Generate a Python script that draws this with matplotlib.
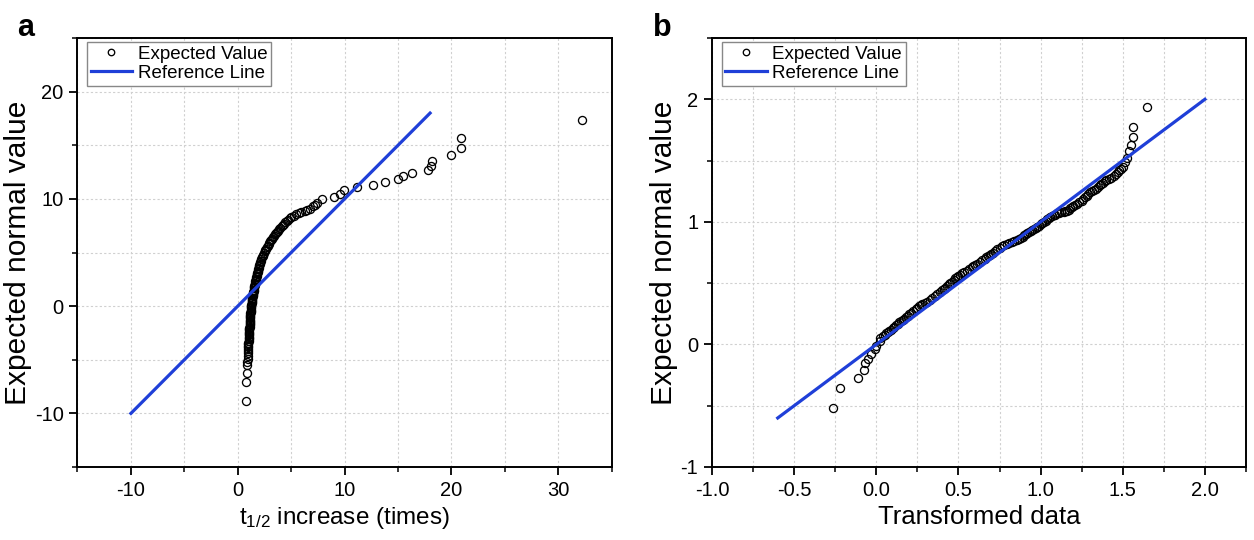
import matplotlib
matplotlib.use("Agg")
import matplotlib.pyplot as plt
from matplotlib.ticker import MultipleLocator

plt.rcParams['font.family'] = ['Liberation Sans', 'DejaVu Sans']
plt.rcParams['mathtext.default'] = 'regular'

# ---- Panel a data ----
a_x = [0.78, 0.80, 0.85, 0.88, 0.90, 0.92, 0.94, 0.95, 0.96, 0.97, 0.98, 0.99, 1.00, 1.00,
       1.01, 1.02, 1.03, 1.03, 1.04, 1.05, 1.06, 1.06, 1.07, 1.08, 1.09, 1.10, 1.11, 1.11,
       1.12, 1.13, 1.14, 1.14, 1.15, 1.16, 1.17, 1.18, 1.19, 1.20, 1.21, 1.22, 1.24, 1.25,
       1.26, 1.27, 1.29, 1.30, 1.32, 1.33, 1.35, 1.36, 1.38, 1.40, 1.42, 1.44, 1.46, 1.48,
       1.50, 1.52, 1.54, 1.56, 1.58, 1.60, 1.63, 1.65, 1.68, 1.70, 1.73, 1.76, 1.79, 1.82,
       1.85, 1.88, 1.92, 1.95, 1.99, 2.03, 2.08, 2.12, 2.17, 2.22, 2.28, 2.33, 2.39, 2.45,
       2.52, 2.58, 2.65, 2.72, 2.80, 2.88, 2.96, 3.05, 3.13, 3.22, 3.31, 3.40, 3.50, 3.60,
       3.70, 3.80, 3.90, 4.00, 4.11, 4.22, 4.33, 4.45, 4.57, 4.69, 4.85, 5.00, 5.25, 5.47,
       5.70, 5.90, 6.25, 6.50, 6.72, 7.03, 7.25, 7.45, 7.90, 9.00, 9.53, 9.94, 11.2, 12.7,
       13.8, 15.0, 15.5, 16.3, 17.8, 18.1, 18.2, 20.0, 20.9, 20.9, 32.2]
a_y = [-8.85, -7.07, -6.2, -5.5, -5.2, -4.9, -4.65, -4.4, -4.2, -4.0, -3.85, -3.7, -3.55, -3.4,
       -3.25, -3.1, -2.95, -2.85, -2.7, -2.6, -2.5, -2.4, -2.25, -2.15, -2.0, -1.9, -1.8, -1.7,
       -1.55, -1.45, -1.35, -1.25, -1.1, -1.0, -0.9, -0.8, -0.65, -0.55, -0.45, -0.35, -0.2, -0.1,
       0.0, 0.1, 0.25, 0.35, 0.45, 0.55, 0.7, 0.8, 0.9, 1.0, 1.1, 1.2, 1.35, 1.45,
       1.55, 1.65, 1.75, 1.85, 1.95, 2.05, 2.2, 2.3, 2.45, 2.55, 2.7, 2.8, 2.95, 3.05,
       3.2, 3.3, 3.45, 3.55, 3.7, 3.8, 3.95, 4.1, 4.25, 4.4, 4.55, 4.7, 4.8, 4.95,
       5.1, 5.25, 5.35, 5.5, 5.65, 5.8, 5.9, 6.05, 6.2, 6.3, 6.45, 6.55, 6.7, 6.8,
       6.95, 7.05, 7.2, 7.3, 7.45, 7.55, 7.7, 7.8, 7.95, 8.05, 8.2, 8.35, 8.45, 8.55,
       8.65, 8.75, 8.9, 9.0, 9.1, 9.3, 9.45, 9.6, 9.97, 10.2, 10.45, 10.8, 11.1, 11.3,
       11.55, 11.85, 12.15, 12.4, 12.7, 13.1, 13.55, 14.1, 14.75, 15.7, 17.4]
a_ref = [-10, 18]

# ---- Panel b data ----
b_x = [-0.265, -0.22, -0.11, -0.075, -0.068, -0.05, -0.03, -0.01, 0.00, 0.02, 0.025, 0.04,
       0.05, 0.06, 0.07, 0.08, 0.09, 0.10, 0.11, 0.12, 0.13, 0.14, 0.15, 0.16, 0.17, 0.18,
       0.19, 0.20, 0.21, 0.225, 0.24, 0.25, 0.26, 0.27, 0.28, 0.295, 0.31, 0.325, 0.34, 0.355,
       0.37, 0.385, 0.40, 0.41, 0.42, 0.43, 0.44, 0.45, 0.46, 0.47, 0.48, 0.49, 0.50, 0.51,
       0.52, 0.535, 0.55, 0.565, 0.58, 0.59, 0.60, 0.615, 0.63, 0.645, 0.66, 0.67, 0.68, 0.69,
       0.70, 0.71, 0.72, 0.735, 0.75, 0.765, 0.78, 0.795, 0.81, 0.825, 0.84, 0.855, 0.87, 0.88,
       0.89, 0.90, 0.91, 0.92, 0.93, 0.94, 0.95, 0.96, 0.97, 0.98, 0.99, 1.00, 1.01, 1.02,
       1.03, 1.04, 1.05, 1.06, 1.07, 1.08, 1.09, 1.10, 1.11, 1.125, 1.14, 1.15, 1.16, 1.17,
       1.18, 1.19, 1.20, 1.21, 1.22, 1.235, 1.25, 1.26, 1.27, 1.28, 1.29, 1.30, 1.31, 1.325,
       1.34, 1.35, 1.36, 1.37, 1.38, 1.39, 1.40, 1.415, 1.43, 1.445, 1.46, 1.47, 1.48, 1.49,
       1.50, 1.515, 1.525, 1.535, 1.55, 1.56, 1.565, 1.645]
b_y = [-0.52, -0.355, -0.27, -0.205, -0.155, -0.12, -0.08, -0.04, -0.01, 0.03, 0.055, 0.07,
       0.08, 0.09, 0.10, 0.11, 0.12, 0.13, 0.145, 0.155, 0.17, 0.18, 0.19, 0.20, 0.21, 0.22,
       0.235, 0.245, 0.26, 0.275, 0.29, 0.30, 0.31, 0.32, 0.33, 0.34, 0.35, 0.365, 0.38, 0.395,
       0.41, 0.425, 0.44, 0.45, 0.46, 0.475, 0.49, 0.50, 0.51, 0.525, 0.54, 0.55, 0.56, 0.57,
       0.58, 0.59, 0.60, 0.615, 0.63, 0.64, 0.65, 0.66, 0.67, 0.685, 0.70, 0.71, 0.72, 0.73,
       0.74, 0.75, 0.76, 0.775, 0.79, 0.80, 0.81, 0.82, 0.83, 0.835, 0.84, 0.85, 0.86, 0.87,
       0.88, 0.89, 0.90, 0.91, 0.92, 0.925, 0.93, 0.94, 0.95, 0.96, 0.97, 0.98, 0.99, 1.00,
       1.01, 1.02, 1.03, 1.04, 1.05, 1.055, 1.06, 1.07, 1.075, 1.078, 1.08, 1.085, 1.09, 1.10,
       1.11, 1.12, 1.13, 1.14, 1.145, 1.16, 1.17, 1.185, 1.20, 1.215, 1.23, 1.24, 1.25, 1.26,
       1.27, 1.285, 1.30, 1.31, 1.32, 1.33, 1.34, 1.35, 1.36, 1.375, 1.39, 1.405, 1.42, 1.435,
       1.45, 1.49, 1.52, 1.58, 1.625, 1.69, 1.775, 1.94]
b_ref = [-0.6, 2.0]

BLUE = '#1f3fd8'

fig = plt.figure(figsize=(12.54, 5.4), dpi=100)
ax_a = fig.add_axes([0.0618, 0.1352, 0.4260, 0.7944])
ax_b = fig.add_axes([0.5678, 0.1352, 0.4258, 0.7944])


def style(ax, xlim, ylim, xmaj, xmin, ymaj, ymin):
    ax.set_xlim(*xlim)
    ax.set_ylim(*ylim)
    ax.xaxis.set_major_locator(MultipleLocator(xmaj))
    ax.xaxis.set_minor_locator(MultipleLocator(xmin))
    ax.yaxis.set_major_locator(MultipleLocator(ymaj))
    ax.yaxis.set_minor_locator(MultipleLocator(ymin))
    ax.grid(True, which='both', color='#d0d0d0', linestyle=(0, (2, 2)), linewidth=0.8)
    ax.set_axisbelow(True)
    ax.tick_params(which='major', direction='out', length=6, width=1.3, labelsize=14.5,
                   top=False, right=False, pad=4)
    ax.tick_params(which='minor', direction='out', length=3.5, width=1.1,
                   top=False, right=False)
    for s in ax.spines.values():
        s.set_linewidth(1.4)
        s.set_color('black')


def draw(ax, xs, ys, ref):
    ax.plot(xs, ys, linestyle='none', marker='o', markersize=5.8, markerfacecolor='none',
            markeredgecolor='black', markeredgewidth=0.95, label='Expected Value', zorder=3)
    ax.plot(ref, ref, color=BLUE, linewidth=2.3, label='Reference Line', zorder=4)
    leg = ax.legend(loc='upper left', bbox_to_anchor=(0.018, 0.991), borderaxespad=0,
                    fontsize=13.5, frameon=True, fancybox=False, edgecolor='#888888',
                    framealpha=1, handlelength=2.2, handletextpad=0.3, borderpad=0.2,
                    labelspacing=0.1, markerscale=0.8)
    leg.get_frame().set_linewidth(1.0)


draw(ax_a, a_x, a_y, a_ref)
style(ax_a, (-15, 35), (-15, 25), 10, 5, 10, 5)
ax_a.set_xticks([-10, 0, 10, 20, 30])
ax_a.set_xticklabels(['-10', '0', '10', '20', '30'])
ax_a.set_yticks([-10, 0, 10, 20])
ax_a.set_yticklabels(['-10', '0', '10', '20'])
ax_a.set_xlabel('t$_{1/2}$ increase (times)', fontsize=17.5, labelpad=4)
ax_a.set_ylabel('Expected normal value', fontsize=21.5, labelpad=2)

draw(ax_b, b_x, b_y, b_ref)
style(ax_b, (-1.0, 2.25), (-1.0, 2.5), 0.5, 0.25, 1, 0.5)
ax_b.set_xticks([-1.0, -0.5, 0.0, 0.5, 1.0, 1.5, 2.0])
ax_b.set_xticklabels(['-1.0', '-0.5', '0.0', '0.5', '1.0', '1.5', '2.0'])
ax_b.set_yticks([-1, 0, 1, 2])
ax_b.set_yticklabels(['-1', '0', '1', '2'])
ax_b.set_xlabel('Transformed data', fontsize=18.5, labelpad=4)
ax_b.set_ylabel('Expected normal value', fontsize=21.5, labelpad=2)

fig.text(0.0136, 0.975, 'a', fontsize=22, fontweight='bold', va='top', ha='left')
fig.text(0.5205, 0.975, 'b', fontsize=22, fontweight='bold', va='top', ha='left')

fig.savefig('out.png', dpi=100)
